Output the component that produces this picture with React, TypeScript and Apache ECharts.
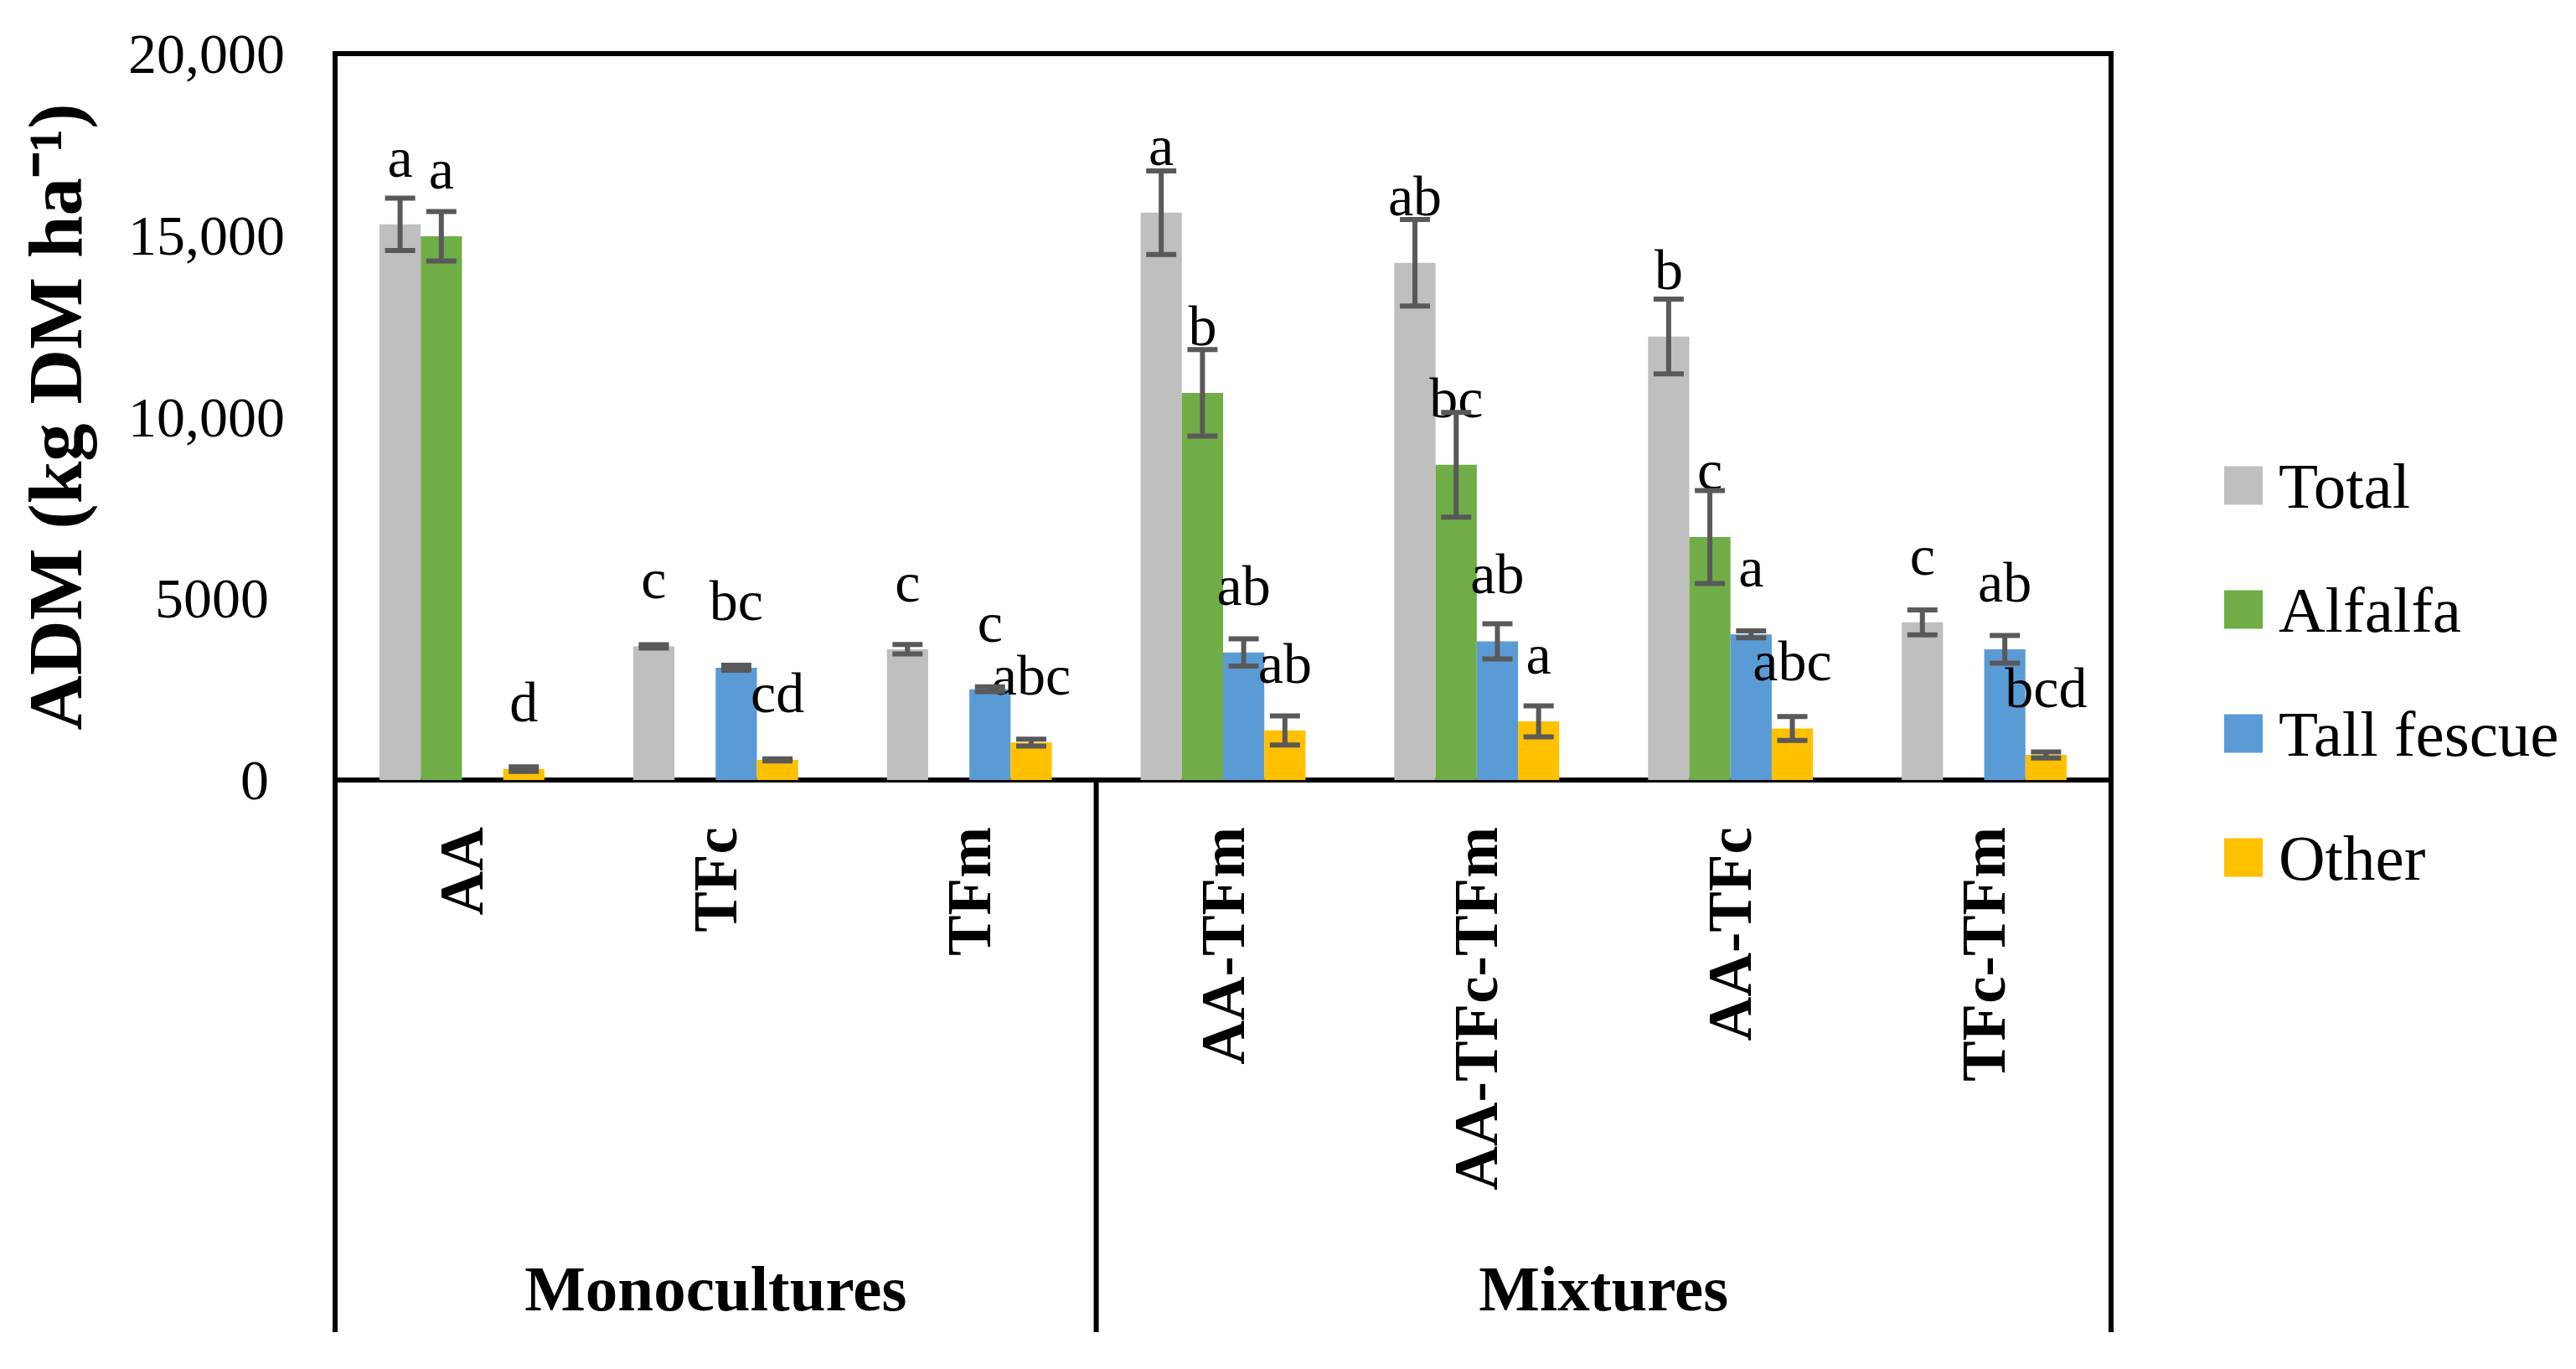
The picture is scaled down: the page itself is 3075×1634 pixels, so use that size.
import * as echarts from "echarts";
import { useEffect, useRef } from "react";

const categories = ["AA", "TFc", "TFm", "AA-TFm", "AA-TFc-TFm", "AA-TFc", "TFc-TFm"];
const groupNames = ["Monocultures", "Mixtures"];
const groupSizes = [3, 4];
const seriesNames = ["Total", "Alfalfa", "Tall fescue", "Other"];
const colors = ["#BFBFBF", "#70AD47", "#5B9BD5", "#FFC000"];

// mean values (kg DM/ha) and +/- error
const total = [15300, 3680, 3600, 15620, 14240, 12210, 4340];
const totalErr = [720, 45, 130, 1150, 1190, 1030, 345];
const alfalfa = [14970, 0, 0, 10660, 8680, 6690, 0];
const alfalfaErr = [680, 0, 0, 1190, 1440, 1280, 0];
const tallFescue = [0, 3090, 2500, 3510, 3820, 4010, 3600];
const tallFescueErr = [0, 70, 65, 375, 485, 95, 380];
const other = [300, 555, 1030, 1365, 1615, 1420, 690];
const otherErr = [65, 30, 95, 400, 425, 330, 85];

// significance letters
const totalLetters = ["a", "c", "c", "a", "ab", "b", "c"];
const alfalfaLetters = ["a", "", "", "b", "bc", "c", ""];
const tallFescueLetters = ["", "bc", "c", "ab", "ab", "a", "ab"];
const otherLetters = ["d", "cd", "abc", "ab", "a", "abc", "bcd"];

const yTicks = [0, 5000, 10000, 15000, 20000];
const yTickLabels = ["0", "5000", "10,000", "15,000", "20,000"];

const values = [total, alfalfa, tallFescue, other];
const errors = [totalErr, alfalfaErr, tallFescueErr, otherErr];
const letters = [totalLetters, alfalfaLetters, tallFescueLetters, otherLetters];

const font = "'Liberation Serif', 'Times New Roman', serif";
const frameBottom = 1590;
const categoryGap = 0.35;

export default function App() {
  const chartRef = useRef<HTMLDivElement>(null);

  useEffect(() => {
    if (!chartRef.current) return;
    const chart = echarts.init(chartRef.current, null, { renderer: "svg" });

    const barSeries = seriesNames.map((name, s) => ({
      name,
      type: "bar",
      data: values[s],
      barGap: "0%",
      barCategoryGap: categoryGap * 100 + "%",
      itemStyle: { color: colors[s] },
      label: {
        show: true,
        position: "top",
        distance: 46,
        color: "#000",
        fontFamily: font,
        fontSize: 68,
        formatter: (p: any) => letters[s][p.dataIndex],
      },
    }));

    const errorData: number[][] = [];
    errors.forEach((errs, s) => {
      errs.forEach((e, i) => {
        if (e > 0) errorData.push([i, values[s][i], e, s]);
      });
    });

    const errorSeries = {
      type: "custom",
      name: "error",
      data: errorData,
      encode: { x: 0, y: 1 },
      z: 5,
      silent: true,
      renderItem: (_params: any, api: any) => {
        const i = api.value(0);
        const v = api.value(1);
        const e = api.value(2);
        const s = api.value(3);
        const band = api.size([1, 0])[0];
        const bw = (band * (1 - categoryGap)) / seriesNames.length;
        const cx = api.coord([i, 0])[0];
        const x = cx + (s - (seriesNames.length - 1) / 2) * bw;
        const yHi = api.coord([i, v + e])[1];
        const yLo = api.coord([i, v - e])[1];
        const style = { stroke: "#595959", lineWidth: 6 };
        const cap = 18;
        return {
          type: "group",
          children: [
            { type: "line", shape: { x1: x, y1: yHi, x2: x, y2: yLo }, style },
            { type: "line", shape: { x1: x - cap, y1: yHi, x2: x + cap, y2: yHi }, style },
            { type: "line", shape: { x1: x - cap, y1: yLo, x2: x + cap, y2: yLo }, style },
          ],
        };
      },
    };

    chart.setOption({
      animation: false,
      textStyle: { fontFamily: font },
      grid: {
        left: 400,
        right: 555,
        top: 64,
        bottom: 703,
        show: true,
        borderColor: "#000",
        borderWidth: 6,
        backgroundColor: "transparent",
      },
      legend: {
        data: seriesNames,
        orient: "vertical",
        left: 2650,
        top: 536,
        itemWidth: 46,
        itemHeight: 46,
        itemGap: 71,
        icon: "rect",
        textStyle: {
          fontFamily: font,
          fontSize: 77,
          lineHeight: 76,
          color: "#000",
          padding: [0, 0, 0, 14],
        },
      },
      xAxis: {
        type: "category",
        data: categories,
        axisLine: { show: false },
        axisTick: { show: false },
        splitLine: { show: false },
        axisLabel: {
          interval: 0,
          rotate: 90,
          margin: 56,
          color: "#000",
          fontFamily: font,
          fontSize: 73,
          fontWeight: "bold",
        },
      },
      yAxis: {
        type: "value",
        min: 0,
        max: 20000,
        interval: 5000,
        name: "ADM (kg DM ha⁻¹)",
        nameLocation: "middle",
        nameGap: 288,
        nameTextStyle: {
          fontFamily: font,
          fontSize: 91,
          fontWeight: "bold",
          color: "#000",
        },
        axisLine: { show: false },
        axisTick: { show: false },
        splitLine: { show: false },
        axisLabel: {
          margin: 60,
          color: "#000",
          fontFamily: font,
          fontSize: 68,
          formatter: (v: number) => {
            const t = yTickLabels[yTicks.indexOf(v)] ?? String(v);
            return t.includes(",") ? t : `{p|${t}}`;
          },
          rich: {
            p: { fontFamily: font, fontSize: 68, color: "#000", padding: [0, 19, 0, 0] },
          },
        },
      },
      series: [...barSeries, errorSeries],
    });

    // multi-level category frame and group labels
    const c0 = chart.convertToPixel({ xAxisIndex: 0 }, 0) as number;
    const c1 = chart.convertToPixel({ xAxisIndex: 0 }, 1) as number;
    const band = c1 - c0;
    const left = c0 - band / 2;
    const yBase = chart.convertToPixel({ yAxisIndex: 0 }, 0) as number;
    const lineStyle = { stroke: "#000", lineWidth: 6 };
    const graphics: any[] = [];
    let k = 0;
    const bounds = [0];
    groupSizes.forEach((n) => {
      k += n;
      bounds.push(k);
    });
    bounds.forEach((b) => {
      const x = left + b * band;
      graphics.push({
        type: "line",
        shape: { x1: x, y1: yBase, x2: x, y2: frameBottom },
        style: lineStyle,
        silent: true,
      });
    });
    groupNames.forEach((g, gi) => {
      const xm = left + ((bounds[gi] + bounds[gi + 1]) / 2) * band;
      graphics.push({
        type: "text",
        x: xm,
        y: 1538,
        style: {
          text: g,
          fontFamily: font,
          fontSize: 77,
          fontWeight: "bold",
          fill: "#000",
          align: "center",
          verticalAlign: "middle",
        },
        silent: true,
      });
    });
    chart.setOption({ graphic: graphics });

    const handleResize = () => chart.resize();
    window.addEventListener("resize", handleResize);
    return () => {
      window.removeEventListener("resize", handleResize);
      chart.dispose();
    };
  }, []);

  return (
    <div
      ref={chartRef}
      style={{ position: "fixed", left: 0, top: 0, width: "100vw", height: "100vh", background: "#fff" }}
    />
  );
}
